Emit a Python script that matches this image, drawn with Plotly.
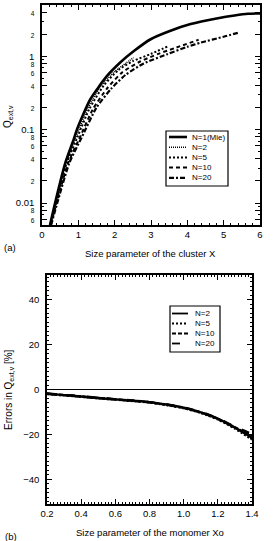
import plotly.graph_objects as go

W, H = 278, 541


def px(x):
    return x / W


def py(y):
    return 1 - y / H


# ---------------- Panel (a) data ----------------
a_names = ["N=1(Mie)", "N=2", "N=5", "N=10", "N=20"]
mie_x = [0.22, 0.36, 0.64, 0.87, 0.96, 1.33, 1.79, 2.16, 2.52, 2.99, 3.5, 4.09, 4.84, 5.3, 5.67, 6.0]
mie_q = [0.005, 0.01, 0.035, 0.073, 0.1, 0.26, 0.54, 0.83, 1.17, 1.71, 2.2, 2.75, 3.3, 3.6, 3.8, 3.85]
n2_x = [0.22, 0.37, 0.66, 0.94, 1.25, 1.6, 2.0, 2.3, 2.52]
n2_q = [0.005, 0.01, 0.035, 0.08, 0.19, 0.38, 0.62, 0.8, 0.96]
n5_x = [0.23, 0.38, 0.68, 0.98, 1.3, 1.7, 2.1, 2.5, 3.0, 3.45]
n5_q = [0.005, 0.01, 0.035, 0.08, 0.19, 0.4, 0.65, 0.86, 1.08, 1.36]
n10_x = [0.24, 0.4, 0.72, 1.05, 1.4, 1.8, 2.2, 2.7, 3.2, 3.7, 4.31]
n10_q = [0.005, 0.01, 0.035, 0.08, 0.19, 0.37, 0.6, 0.85, 1.08, 1.32, 1.68]
n20_x = [0.25, 0.42, 0.75, 1.1, 1.5, 1.9, 2.3, 2.8, 3.45, 4.0, 4.37, 5.0, 5.43]
n20_q = [0.005, 0.01, 0.035, 0.08, 0.2, 0.36, 0.56, 0.8, 1.07, 1.35, 1.54, 1.85, 2.12]

# ---------------- Panel (b) data ----------------
b_names = ["N=2", "N=5", "N=10", "N=20"]
xo = [0.2, 0.3, 0.4, 0.5, 0.6, 0.7, 0.8, 0.9, 1.0, 1.1, 1.2, 1.3, 1.4]
err_n2 = [-1.9, -2.5, -3.1, -3.8, -4.4, -5.0, -5.6, -6.7, -8.1, -10.2, -13.0, -17.0, -21.5]
err_n5 = [-2.0, -2.6, -3.2, -3.9, -4.5, -5.1, -5.8, -6.9, -8.3, -10.4, -13.3, -17.4, -22.3]
err_n10 = [-1.9, -2.5, -3.2, -3.8, -4.4, -5.0, -5.7, -6.8, -8.2, -10.2, -13.1, -16.9, -20.6]
err_n20 = [-1.8, -2.4, -3.0, -3.7, -4.3, -4.9, -5.6, -6.6, -8.0, -10.0, -12.8, -16.6, -19.8]

# Tick labels of the log axis
y_tick_vals = [0.006, 0.008, 0.01, 0.02, 0.04, 0.06, 0.08, 0.1, 0.2, 0.4, 0.6, 0.8, 1, 2, 4]
y_tick_big = ["", "", "0.01", "", "", "", "", "0.1", "", "", "", "", "1", "", ""]
y_tick_small = ["6", "8", "", "2", "4", "6", "8", "", "2", "4", "6", "8", "", "2", "4"]
y_minor_vals = [m * 10 ** e for e in (-3, -2, -1, 0) for m in range(1, 10)]

FONT = "Liberation Sans, Arial, sans-serif"

ticktext = []
for big, small in zip(y_tick_big, y_tick_small):
    if big:
        ticktext.append(big)
    else:
        ticktext.append("<span style='font-size:6.5px'>" + small + "</span>")

fig = go.Figure()

a_series = [(mie_x, mie_q), (n2_x, n2_q), (n5_x, n5_q), (n10_x, n10_q), (n20_x, n20_q)]
a_dash = ["solid", "1px,1px", "2px,2px", "4px,3px", "5px,2px,2px,2px"]
a_width = [2.6, 1.6, 2.0, 2.0, 2.2]
for (xs, ys), name, d, w in zip(a_series, a_names, a_dash, a_width):
    fig.add_trace(go.Scatter(x=xs, y=ys, mode="lines", name=name, showlegend=False,
                             line=dict(color="black", width=w, dash=d, shape="spline", smoothing=0.6),
                             xaxis="x", yaxis="y"))

b_series = [err_n2, err_n5, err_n10, err_n20]
b_dash = ["solid", "2px,2px", "4px,2px", "8px,12px"]
for ys, name, d in zip(b_series, b_names, b_dash):
    fig.add_trace(go.Scatter(x=xo, y=ys, mode="lines", name=name, showlegend=False,
                             line=dict(color="black", width=2.4, dash=d, shape="spline", smoothing=0.6),
                             xaxis="x2", yaxis="y2"))

axis_common = dict(showline=True, linecolor="black", linewidth=1.5, mirror="allticks",
                   ticks="inside", ticklen=5, tickwidth=1, tickcolor="black",
                   showgrid=False, zeroline=False, automargin=False,
                   tickfont=dict(family=FONT, size=9.5, color="black"))

fig.update_layout(
    width=W, height=H, margin=dict(l=0, r=0, t=0, b=0),
    paper_bgcolor="white", plot_bgcolor="white",
    font=dict(family=FONT, color="black"),
    showlegend=False,
    xaxis=dict(domain=[px(42), px(260)], range=[0, 6], dtick=1, anchor="y",
               minor=dict(dtick=0.2, ticks="inside", ticklen=2.5, tickcolor="black"),
               **axis_common),
    yaxis=dict(domain=[py(225), py(5)], type="log", range=[-2.3, 0.7], anchor="x",
               tickmode="array", tickvals=y_tick_vals, ticktext=ticktext,
               minor=dict(tickmode="array", tickvals=y_minor_vals, ticks="inside", ticklen=2.5,
                          tickcolor="black"),
               ticklabelstandoff=4,
               **axis_common),
    xaxis2=dict(domain=[px(47), px(252)], range=[0.2, 1.4], dtick=0.2, tickformat=".1f", anchor="y2",
                minor=dict(dtick=0.02, ticks="inside", ticklen=2.5, tickcolor="black"),
                **axis_common),
    yaxis2=dict(domain=[py(504), py(275)], range=[-51, 51], dtick=20, tick0=0, anchor="x2",
                minor=dict(dtick=2, ticks="inside", ticklen=2.5, tickcolor="black"),
                ticklabelstandoff=4,
                **axis_common),
)

# zero line in panel (b)
fig.add_shape(type="line", xref="x2 domain", yref="y2", x0=0, x1=1, y0=0, y1=0,
              line=dict(color="black", width=1))


def label(text, x, y, size=9.5, angle=0, xanchor="center"):
    fig.add_annotation(text=text, x=px(x), y=py(y), xref="paper", yref="paper",
                       xanchor=xanchor, yanchor="middle", textangle=angle,
                       showarrow=False, font=dict(size=size))


# Axis titles and panel labels
label("Size parameter of the cluster X", 150, 254)
label("Size parameter of the monomer Xo", 150, 532)
label("Q<sub>ext,v</sub>", 8, 117, size=10, angle=-90)
label("Errors in Q<sub>ext,v</sub> [%]", 9, 390, size=10, angle=-90)
label("(a)", 2, 247, xanchor="left")
label("(b)", 3, 536, xanchor="left")

# Legend (a)
fig.add_shape(type="rect", xref="paper", yref="paper", x0=px(166), x1=px(228), y0=py(186), y1=py(131),
              line=dict(color="black", width=1.2), fillcolor="white", layer="above")
for i, (name, d, w) in enumerate(zip(a_names, a_dash, a_width)):
    yy = 137 + i * 10.2
    fig.add_shape(type="line", xref="paper", yref="paper", x0=px(169), x1=px(187), y0=py(yy), y1=py(yy),
                  line=dict(color="black", width=w, dash=d), layer="above")
    label(name, 190, yy, size=8, xanchor="left")

# Legend (b)
fig.add_shape(type="rect", xref="paper", yref="paper", x0=px(170), x1=px(220), y0=py(352), y1=py(306),
              line=dict(color="black", width=1.2), fillcolor="white", layer="above")
for i, (name, d) in enumerate(zip(b_names, b_dash)):
    yy = 313.5 + i * 10
    fig.add_shape(type="line", xref="paper", yref="paper", x0=px(172), x1=px(188), y0=py(yy), y1=py(yy),
                  line=dict(color="black", width=1.8, dash=d), layer="above")
    label(name, 193, yy, size=8, xanchor="left")

fig.write_html("out.html")
